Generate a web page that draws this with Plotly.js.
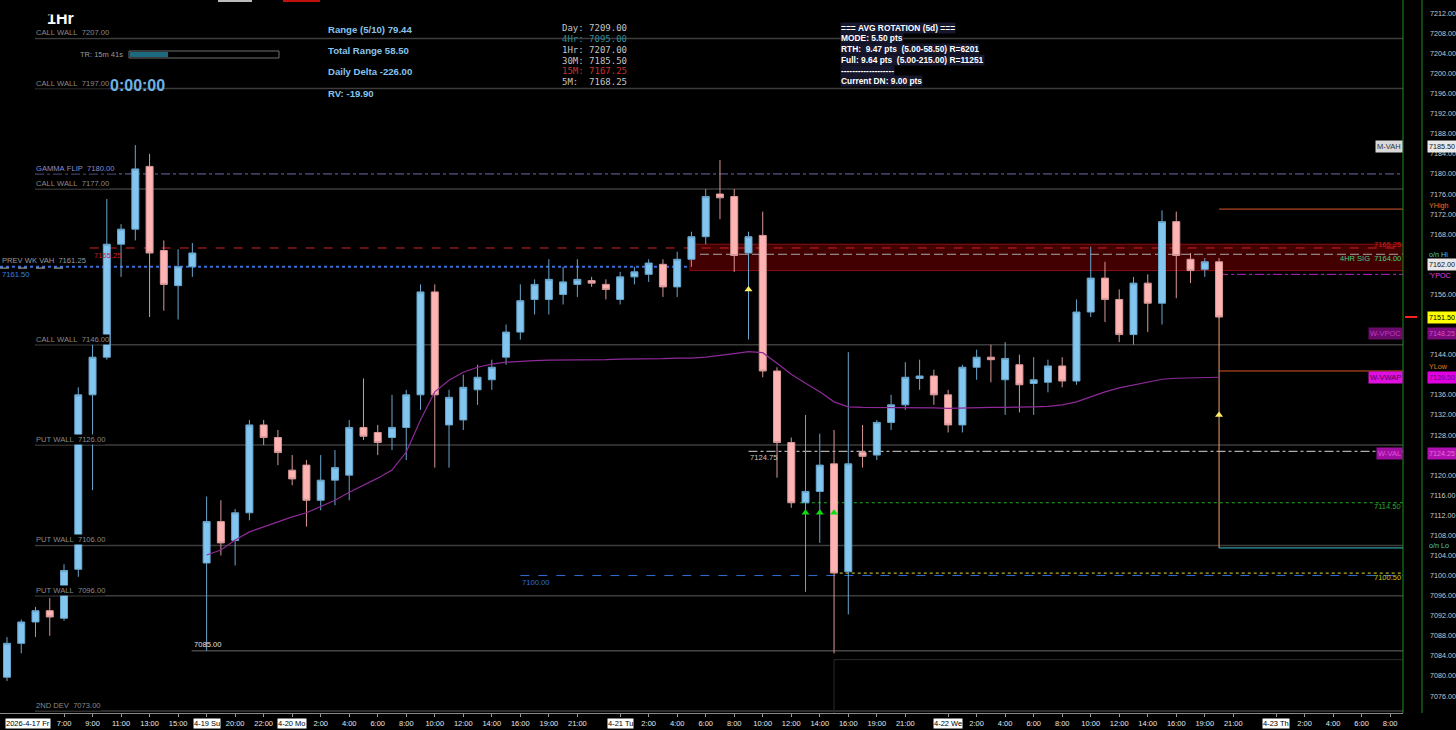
<!DOCTYPE html>
<html><head><meta charset="utf-8">
<script src="https://cdn.plot.ly/plotly-3.0.1.min.js"></script>
<style>html,body{margin:0;padding:0;background:#000;overflow:hidden}#chart{width:1456px;height:730px}</style>
</head><body><div id="chart"></div>
<script>
// ---------------- DATA ----------------
const opens = [7079.75,7086.5,7090.75,7093,7091.5,7101.25,7136,7143.5,7166,7169,7181.5,7164.75,7157.75,7161.5,
 7102.5,7110.75,7107,7112.5,7130,7127.5,7121,7122,7115,7119,7120,7129.5,7128.5,7127.5,7129.5,7136,7156.5,7130,7131,7137,7139,7143.5,7148.5,
 7155,7155,7156,7158,7158.75,7158,7155,7159.5,7160,7162,7157.5,7163,7167.5,7176,7175.5,7164.25,7167.75,7140.75,7126.5,7114.5,7116.75,7122.25,7100.75,
 7124.5,7124,7130.5,7134,7139.25,7139.75,7136,7130,7141.5,7143.5,7139,7142,7138.25,7138.5,7141.75,7138.75,7152.5,7159.25,7155,7148,7158.25,7154.25,7170.5,7163,7161,7162.5];
const highs = [7087.75,7091.25,7093.75,7095.5,7102.25,7137.5,7146,7175,7170,7185.75,7184,7166.75,7165,7166.25,
 7115.75,7115,7113.25,7131,7131,7129,7124,7123,7124,7125,7131,7139.25,7130,7136,7137,7158,7158,7137,7140,7142,7143,7150,7158,
 7159,7163,7161.5,7163,7159.5,7159,7160.5,7161.5,7163,7163,7164.5,7168.5,7177,7182.75,7177,7168.5,7172.5,7141.5,7127.5,7132,7128.25,7129,7144.5,
 7130,7131,7136,7142.5,7143,7141,7137,7142,7145,7146,7146.5,7144,7143.5,7143,7143.5,7155,7165.5,7162.5,7157,7159.5,7160,7172.75,7172.5,7164.25,7163.25,7163.25];
const lows = [7079,7084.5,7087.75,7088,7091,7099.75,7117,7143,7159.5,7166.75,7151.5,7152.75,7151,7159.5,
 7085,7104,7102,7111,7126,7122,7118,7109.75,7113,7114,7115,7127,7124,7125,7123,7133,7121.5,7121.5,7129,7134,7137,7142,7147,
 7152,7152,7154,7155.5,7157.5,7155,7154,7158,7158.5,7155.5,7155.5,7161.5,7166,7171,7160.5,7147,7139.5,7119.5,7113.5,7096.75,7106.5,7084.5,7092.25,
 7121.5,7123,7129,7133,7137,7134,7128.5,7128.5,7139,7138.5,7132,7132.5,7132,7136.5,7137.5,7138,7151.5,7150.5,7146.5,7146,7148.5,7150,7155.25,7158.25,7159.5,7151.25];
const closes = [7086.5,7090.75,7093,7091.75,7101,7136,7143.5,7166,7169,7181,7164.25,7158,7161.5,7164.25,
 7110.75,7106.5,7112.5,7130,7127.5,7124.5,7119.25,7115,7119,7121.5,7129.5,7127.75,7126.5,7129.5,7136,7156.5,7136,7135.5,7137.5,7139.5,7141.5,7148.5,7154.75,
 7158,7159,7158.5,7159,7158.25,7157,7159.5,7160.5,7162.25,7157.5,7163,7167.5,7175.5,7175.25,7163.75,7167.5,7140.75,7126.5,7114.5,7116.75,7122,7100.5,7122.25,
 7123.75,7130.5,7134,7139.5,7139.75,7136,7130,7141.5,7143.5,7143,7143.25,7138,7139,7141.75,7138.75,7152.5,7159.25,7155,7148,7158.25,7154.25,7170.5,7163.75,7160.75,7162.5,7151.5];

// weekly VWAP (starts at bar 14, Sunday open)
const vwapStart = 14;
const vwapValues = [7104.1,7105.1,7107.1,7108.7,7109.7,7110.7,7111.7,7112.5,7113.7,7115.0,7116.6,7118.0,7119.4,7121.0,7124.6,7131.0,7136.6,
 7138.9,7140.5,7141.5,7142.1,7142.5,7142.7,7142.8,7142.9,7142.9,7143.0,7143.0,7143.0,7143.1,7143.1,7143.2,7143.2,7143.3,7143.3,7143.5,7143.8,
 7144.2,7144.6,7144.4,7142.3,7140.1,7138.3,7136.6,7134.6,7133.6,7133.5,7133.5,7133.4,7133.4,7133.4,7133.4,7133.3,7133.4,7133.5,7133.5,7133.5,
 7133.5,7133.6,7133.7,7134.0,7134.6,7135.6,7136.6,7137.4,7138.0,7138.5,7139.1,7139.3,7139.4,7139.5,7139.5];

const yellowTriIdx = [52, 85];
const yellowTriVal = [7157.0, 7132.0];
const greenTriIdx = [56, 57, 58];
const greenTriVal = [7112.5, 7112.5, 7112.5];

const xTickIdx  = [4,6,8,10,12,16,18,22,24,26,28,30,32,34,36,38,40,45,47,49,51,53,55,57,59,61,63,68,70,72,74,76,78,80,82,84,86,91,93,95,97];
const xTickText = ['7:00','9:00','11:00','13:00','15:00','20:00','22:00','2:00','4:00','6:00','8:00','10:00','12:00','14:00','16:00','19:00','21:00',
 '2:00','4:00','6:00','8:00','10:00','12:00','14:00','16:00','19:00','21:00','2:00','4:00','6:00','8:00','10:00','12:00','14:00','16:00','19:00','21:00',
 '2:00','4:00','6:00','8:00'];
const dateIdx  = [14, 20, 43, 66, 89];
const dateText = ['4-19 Su','4-20 Mo','4-21 Tu','4-22 We','4-23 Th'];
const firstDate = '2026-4-17 Fr';

// price ticks that are visible on the axis (the others sit under level labels)
const yTicks = [7076,7080,7084,7088,7092,7096,7100,7104,7108,7112,7116,7120,7128,7132,7136,7144,7156,7168,7172,7176,7180,7184,7188,7192,7196,7200,7204,7208,7212];

const wallNames  = ['CALL WALL','CALL WALL','GAMMA FLIP','CALL WALL','CALL WALL','PUT WALL','PUT WALL','PUT WALL','2ND DEV'];
const wallValues = [7207,7197,7180,7177,7146,7126,7106,7096,7073];

const lvlRed = 7165.25, lvlSig = 7164.00, lvlBlue = 7161.50, prevWkVah = 7161.25, ypoc = 7160.0;
const bandLo = 7160.75, bandHi = 7166.0;
const yHigh = 7173.0, yLow = 7140.75, onLow = 7105.5, onHi = 7164.0, onHiBox = 7162.0;
const mVah = 7185.5, wVpoc = 7148.25, wVwap = 7139.5, wVal = 7124.25;
const lvl12475 = 7124.75, lvl11450 = 7114.5, lvl10000 = 7100.0, lvl10050 = 7100.5, lvl08500 = 7085.0;
const lastPrice = 7151.5;

const rangeLines = ['Range (5/10) 79.44','Total Range 58.50','Daily Delta -226.00','RV: -19.90'];
const tfLines = ['Day: 7209.00','4Hr: 7095.00','1Hr: 7207.00','30M: 7185.50','15M: 7167.25','5M:  7168.25'];
const rotLines = ['=== AVG ROTATION (5d) ===','MODE: 5.50 pts','RTH:  9.47 pts  (5.00-58.50) R=6201','Full: 9.64 pts  (5.00-215.00) R=11251','-------------------','Current DN: 9.00 pts'];

// ---------------- LAYOUT HELPERS ----------------
const PW = 1403, PH = 713;
const px = v => v / PW;
const py = v => 1 - v / PH;
const LAB = '"Liberation Sans",Arial,sans-serif';
const SANS = '"Liberation Sans",Arial,sans-serif';
const MONO = '"DejaVu Sans Mono","Liberation Mono",monospace';
const nb = s => s.replace(/ /g, '\u00a0');
const XR = 200;

const xIdx = opens.map((_, i) => i);

const traces = [
  {type:'scatter', mode:'lines', x: vwapValues.map((_, k) => vwapStart + k), y: vwapValues,
   line:{color:'#8e2a98', width:1.2}, hoverinfo:'skip'},
  {type:'candlestick', x: xIdx, open: opens, high: highs, low: lows, close: closes,
   increasing:{line:{color:'#6aa6cc', width:1}, fillcolor:'#82c5ef'},
   decreasing:{line:{color:'#d89898', width:1}, fillcolor:'#ffb4b4'},
   hoverinfo:'skip'},
  {type:'scatter', mode:'markers', x: yellowTriIdx, y: yellowTriVal,
   marker:{symbol:'triangle-up', size:7, color:'#ffee66'}, hoverinfo:'skip'},
  {type:'scatter', mode:'markers', x: greenTriIdx, y: greenTriVal,
   marker:{symbol:'triangle-up', size:7, color:'#10dd10'}, hoverinfo:'skip'}
];

const shapes = [];
const hline = (y, x0, x1, color, dash, width, xref, layer) => shapes.push({type:'line', xref: xref||'x', yref:'y', x0, x1, y0:y, y1:y,
  line:{color, width: width||1, dash: dash||'solid'}, layer: layer||'below'});

// red band
shapes.push({type:'rect', xref:'x', yref:'y', x0:47.9, x1:XR, y0:bandLo, y1:bandHi, fillcolor:'#420000', line:{color:'#8a1010', width:1}, layer:'below'});
// wall lines
wallValues.forEach((v, i) => {
  if (wallNames[i] === 'GAMMA FLIP') hline(v, px(35), 1, '#6c6cb0', 'dashdot', 1, 'paper');
  else hline(v, px(35), 1, '#3c3c3c', 'solid', 1.5, 'paper');
});
hline(lvlRed, 5.8, XR, '#d02424', 'dash', 1);
hline(lvlSig, 48.6, XR, '#a8a8a8', '9px,4px', 1);
hline(lvlBlue, 0, 1, '#3a6fd8', 'dot', 2, 'paper');
hline(prevWkVah, 0, px(72), '#bbbbbb', 'dash', 1, 'paper');
hline(ypoc, 85, XR, '#c020c0', 'dashdot', 1);
hline(yHigh, 85, XR, '#d85a2a', 'solid', 1);
hline(yLow, 85, XR, '#d85a2a', 'solid', 1);
hline(onLow, 85, XR, '#40c0d0', 'solid', 1);
hline(lvl12475, 52, XR, '#d8d8d8', 'dashdot', 1);
hline(lvl11450, 55.6, XR, '#20b020', 'dot', 1.2);
hline(lvl10000, 36, XR, '#2f6fd8', 'dash', 1);
hline(lvl10050, 58.4, XR, '#b0b020', 'dot', 1.2);
hline(lvl08500, 12.95, XR, '#6a6a6a', 'solid', 1);
// orange vertical projection
shapes.push({type:'line', xref:'x', yref:'y', x0:85, x1:85, y0:lastPrice, y1:onLow, line:{color:'#e8a070', width:1}, layer:'below'});
// bottom faint box
shapes.push({type:'rect', xref:'x', yref:'y', x0:58, x1:XR, y0:7071, y1:7083.25, line:{color:'#2c2c2c', width:1}, layer:'below'});
// green verticals on right
shapes.push({type:'line', xref:'paper', yref:'paper', x0:1, x1:1, y0:0, y1:1, line:{color:'#1f8f1f', width:1}});
shapes.push({type:'line', xref:'paper', yref:'paper', x0:px(1422), x1:px(1422), y0:0, y1:1, line:{color:'#1f8f1f', width:1}});
// red arrow marker
shapes.push({type:'line', xref:'paper', yref:'y', x0:px(1405), x1:px(1417), y0:lastPrice, y1:lastPrice, line:{color:'#ff2020', width:2}});
// progress bar
shapes.push({type:'rect', xref:'paper', yref:'paper', x0:px(129), x1:px(279), y0:py(58), y1:py(51), line:{color:'#707070', width:1}});
shapes.push({type:'rect', xref:'paper', yref:'paper', x0:px(130), x1:px(168), y0:py(57), y1:py(52), fillcolor:'#1c6a80', line:{width:0}});
// top tiny boxes
shapes.push({type:'rect', xref:'paper', yref:'paper', x0:px(218), x1:px(252), y0:py(2), y1:1, fillcolor:'#bbbbbb', line:{width:0}});
shapes.push({type:'rect', xref:'paper', yref:'paper', x0:px(283), x1:px(320), y0:py(2), y1:1, fillcolor:'#c01010', line:{width:0}});

const ann = [];
const A = o => ann.push(Object.assign({showarrow:false}, o));

// 1Hr and clock
A({xref:'paper', yref:'paper', x:px(45), y:py(18), xanchor:'left', yanchor:'middle', text:'<b>1Hr</b>', font:{family:SANS, size:16, color:'#ffffff'}});
A({xref:'paper', yref:'paper', x:px(40), y:1, xanchor:'left', yanchor:'top', text:' ', width:50, height:13, bgcolor:'#000000', borderpad:0});
A({xref:'paper', yref:'paper', x:px(108), y:py(85), xanchor:'left', yanchor:'middle', text:'<b>0:00:00</b>', font:{family:SANS, size:16, color:'#6db3e6'}});
A({xref:'paper', yref:'paper', x:px(125), y:py(55), xanchor:'right', yanchor:'middle', text:'TR: 15m 41s', font:{family:LAB, size:7.5, color:'#9a9a9a'}});

// wall labels
wallValues.forEach((v, i) => {
  const gam = wallNames[i] === 'GAMMA FLIP';
  A({xref:'paper', yref:'y', x:px(35), y:v, xanchor:'left', yanchor:'bottom', yshift:0,
     text: nb(wallNames[i] + '  ' + v.toFixed(2)), bgcolor:'#000', borderpad:0,
     font:{family:LAB, size:7.6, color: gam ? '#8c8cd0' : '#8a8a8a'}});
});
A({xref:'paper', yref:'y', x:0, y:prevWkVah, xanchor:'left', yanchor:'bottom', yshift:1, text:nb('PREV WK VAH  ' + prevWkVah.toFixed(2)), font:{family:LAB, size:7.6, color:'#9a9a9a'}});
A({xref:'paper', yref:'y', x:0, y:lvlBlue, xanchor:'left', yanchor:'top', yshift:-1, text:lvlBlue.toFixed(2), font:{family:LAB, size:7.6, color:'#3a80e0'}});
A({xref:'x', yref:'y', x:5.95, y:lvlRed, xanchor:'left', yanchor:'top', yshift:-1, text:lvlRed.toFixed(2), font:{family:LAB, size:7.6, color:'#c82020'}});
A({xref:'x', yref:'y', x:12.95, y:lvl08500, xanchor:'left', yanchor:'bottom', text:lvl08500.toFixed(2), font:{family:LAB, size:7.6, color:'#e0e0e0'}});
A({xref:'x', yref:'y', x:52, y:lvl12475, xanchor:'left', yanchor:'top', yshift:0, text:lvl12475.toFixed(2), font:{family:LAB, size:7.6, color:'#c8c8c8'}});
A({xref:'x', yref:'y', x:36, y:lvl10000, xanchor:'left', yanchor:'top', yshift:0, text:lvl10000.toFixed(2), font:{family:LAB, size:7.6, color:'#3070d8'}});

// right-edge in-plot labels
const R = (y, text, color, bg, fcol, yshift) => A({xref:'paper', yref:'y', x:1, y, xanchor:'right', yanchor:'middle', yshift: yshift||0,
   text, bgcolor: bg || 'rgba(0,0,0,0)', borderpad:1, font:{family:LAB, size:7.5, color: fcol || color}});
R(lvlRed, lvlRed.toFixed(2), '#d02020', null, null, 3);
R(lvlSig, nb('4HR SIG  ' + lvlSig.toFixed(2)), '#40d080', null, null, -4);
R(lvl11450, lvl11450.toFixed(2), '#30a030', null, null, -4);
R(lvl10050, lvl10050.toFixed(2), '#c0c020', null, null, -4);
R(mVah, 'M-VAH', null, '#d8d8d8', '#303030');
R(wVpoc, 'W-VPOC', null, '#6a0a6a', '#c436c4');
R(wVwap, 'W-VWAP', null, '#e010e0', '#500050');
R(wVal, 'W-VAL', null, '#a010a0', '#e050e0');

// axis-side labels
const S = (y, text, bg, fcol, yshift) => A({xref:'paper', yref:'y', x:px(1427), y, xanchor:'left', yanchor:'middle', yshift: yshift||0,
   text, bgcolor: bg, borderpad:1, width:26, align:'left', font:{family:LAB, size:7.2, color: fcol}});
S(mVah, mVah.toFixed(2), '#e8e8e8', '#111111');
S(yHigh, 'YHigh', 'rgba(0,0,0,0)', '#e07a20', 4);
S(onHi, 'o/n Hi', 'rgba(0,0,0,0)', '#40c8d8');
S(onHiBox, onHiBox.toFixed(2), '#e8e8e8', '#111111');
S(ypoc, "'YPOC", 'rgba(0,0,0,0)', '#e040e0', -1);
S(lastPrice, lastPrice.toFixed(2), '#ffff00', '#000000');
S(wVpoc, wVpoc.toFixed(2), '#7a0a7a', '#d050d0');
S(yLow, 'YLow', 'rgba(0,0,0,0)', '#e07a20', 4);
S(wVwap, wVwap.toFixed(2), '#e000e0', '#700070');
S(wVal, wVal.toFixed(2), '#b010b0', '#e070e0');
S(onLow, 'o/n Lo', 'rgba(0,0,0,0)', '#40c8d8', 2);

// top text blocks
const rangeY = [29.3, 50.7, 71.7, 93.3];
rangeLines.forEach((t, i) => A({xref:'paper', yref:'paper', x:px(326), y:py(rangeY[i]), xanchor:'left', yanchor:'middle',
   text:'<b>' + t + '</b>', font:{family:SANS, size:9.6, color:'#86c4ec'}}));
const tfY = [28.3, 39, 50, 61, 71.5, 82];
const tfCol = ['#c4c4c4','#2f8c9c','#c4c4c4','#c4c4c4','#c83030','#c4c4c4'];
tfLines.forEach((t, i) => A({xref:'paper', yref:'paper', x:px(560), y:py(tfY[i]), xanchor:'left', yanchor:'middle',
   text:nb(t), font:{family:MONO, size:9, color:tfCol[i]}}));
const rotY = [27.7, 38.3, 49.3, 60, 70.7, 80.7];
rotLines.forEach((t, i) => A({xref:'paper', yref:'paper', x:px(840), y:py(rotY[i]), xanchor:'left', yanchor:'middle',
   text:'<b>' + nb(t) + '</b>', bgcolor:'#16162c', borderpad:0, font:{family:SANS, size:8.4, color:'#ffffff'}}));

// date labels on x axis
A({xref:'paper', yref:'paper', x:px(5), y:0, yshift:-10, xanchor:'left', yanchor:'middle', text:firstDate, bgcolor:'#ffffff', borderpad:0, font:{family:LAB, size:7.5, color:'#000'}});
dateIdx.forEach((d, i) => A({xref:'x', yref:'paper', x:d, y:0, yshift:-10, xanchor:'center', yanchor:'middle', text:dateText[i], bgcolor:'#ffffff', borderpad:0, font:{family:LAB, size:7.5, color:'#000'}}));

const layout = {
  width:1456, height:730,
  paper_bgcolor:'#000', plot_bgcolor:'#000',
  margin:{l:0, r:53, t:0, b:17},
  showlegend:false,
  xaxis:{range:[-0.49, 97.9], tickvals:xTickIdx.concat(dateIdx), ticktext:xTickText.concat(dateIdx.map(() => '')),
    showgrid:false, zeroline:false, ticks:'outside', ticklen:3, tickcolor:'#9a9a9a', showline:true, linecolor:'#8a8a8a',
    tickfont:{family:LAB, size:7.5, color:'#e6e6e6'}, rangeslider:{visible:false}, fixedrange:true},
  yaxis:{range:[7072.62, 7214.65], side:'right', tickvals:yTicks, ticktext:yTicks.map(v => v.toFixed(2)),
    showgrid:false, zeroline:false, ticks:'', ticklabelstandoff:26, showline:false,
    tickfont:{family:LAB, size:7.2, color:'#c8c8c8'}, fixedrange:true},
  shapes, annotations: ann
};

Plotly.newPlot('chart', traces, layout, {staticPlot:true, displayModeBar:false});
</script>
</body></html>
